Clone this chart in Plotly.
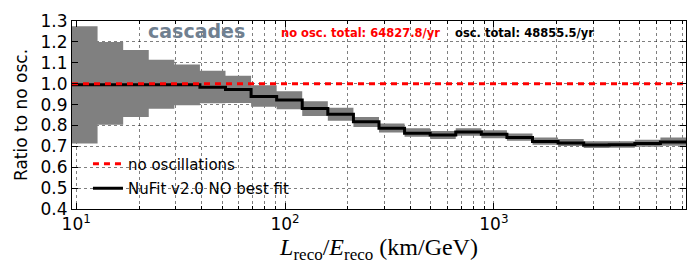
import numpy as np
import plotly.graph_objects as go

# Bin edges of L_reco/E_reco (km/GeV)
bin_edges = [9.55, 12.66, 16.79, 22.26, 29.51, 39.13, 51.88, 68.79, 91.20, 120.9,
             160.3, 212.6, 281.8, 373.6, 495.5, 656.9, 871.0, 1154.8, 1531, 2030,
             2692, 3569, 4732, 6274, 8318]

# NuFit v2.0 NO best fit ratio to no oscillation (per bin)
ratio_bestfit = [0.995, 0.995, 0.995, 0.995, 0.995, 0.983, 0.972, 0.939, 0.922, 0.881,
                 0.853, 0.818, 0.787, 0.763, 0.754, 0.769, 0.758, 0.742, 0.723, 0.716,
                 0.706, 0.708, 0.714, 0.721]
# Uncertainty band (upper / lower)
band_high = [1.275, 1.200, 1.161, 1.114, 1.092, 1.062, 1.038, 0.993, 0.964, 0.916,
             0.885, 0.840, 0.809, 0.787, 0.774, 0.787, 0.777, 0.761, 0.742, 0.735,
             0.724, 0.724, 0.732, 0.742]
band_low = [0.714, 0.803, 0.840, 0.880, 0.897, 0.906, 0.908, 0.889, 0.877, 0.845,
            0.822, 0.793, 0.766, 0.746, 0.735, 0.751, 0.739, 0.727, 0.708, 0.702,
            0.692, 0.693, 0.698, 0.703]
no_osc_ratio = 1.0

no_osc_total = "64827.8/yr"
osc_total = "48855.5/yr"

x_major = [10, 100, 1000]
x_major_text = ["10<sup>1</sup>", "10<sup>2</sup>", "10<sup>3</sup>"]
x_minor = [m * 10 ** e for e in range(1, 4) for m in range(2, 10)]

def step(v):
    return list(v) + [v[-1]]

FONT = "DejaVu Sans"
GRID = "rgba(0,0,0,0.5)"

fig = go.Figure()
fig.add_trace(go.Scatter(x=bin_edges, y=step(band_low), mode="lines",
                         line=dict(width=0, shape="hv", color="#808080"),
                         showlegend=False, hoverinfo="skip"))
fig.add_trace(go.Scatter(x=bin_edges, y=step(band_high), mode="lines",
                         line=dict(width=0, shape="hv", color="#808080"),
                         fill="tonexty", fillcolor="#808080",
                         showlegend=False, hoverinfo="skip"))
fig.add_trace(go.Scatter(x=bin_edges, y=step(ratio_bestfit), mode="lines",
                         line=dict(color="black", width=3, shape="hv"),
                         name="NuFit v2.0 NO best fit", legendrank=2,
                         legendgroup="b"))
fig.add_trace(go.Scatter(x=[bin_edges[0], bin_edges[-1]], y=[no_osc_ratio, no_osc_ratio],
                         mode="lines",
                         line=dict(color="red", width=3, dash="6px,5px"),
                         name="no oscillations", legendrank=1, legendgroup="a"))

fig.update_layout(
    width=698, height=279,
    margin=dict(l=72, r=11, t=19, b=70),
    paper_bgcolor="white", plot_bgcolor="white",
    font=dict(family=FONT, size=17, color="black"),
    showlegend=True,
    legend=dict(x=0.026, y=0.327, xanchor="left", yanchor="top",
                bgcolor="rgba(0,0,0,0)", font=dict(size=15),
                traceorder="grouped", tracegroupgap=2),
)
xtitle = ('<i>L</i><sub><span style="font-size:17px">reco</span></sub>/'
          '<i>E</i><sub><span style="font-size:17px">reco</span></sub> (km/GeV)')
fig.update_xaxes(
    type="log", range=[np.log10(bin_edges[0]), np.log10(bin_edges[-1])],
    tickmode="array", tickvals=x_major, ticktext=x_major_text,
    ticks="inside", ticklen=6, tickcolor="black", tickwidth=1,
    showline=True, linecolor="black", linewidth=1, mirror="allticks",
    showgrid=True, gridcolor=GRID, gridwidth=1, griddash="dot",
    minor=dict(tickmode="array", tickvals=x_minor, ticks="inside", ticklen=3,
               tickcolor="black", showgrid=True, gridcolor=GRID, gridwidth=1,
               griddash="dot"),
    zeroline=False,
    title=dict(text=xtitle, font=dict(family="Liberation Serif", size=24), standoff=4),
)
fig.update_yaxes(
    range=[0.4, 1.3], dtick=0.1, tick0=0.4, tickformat=".1f",
    ticks="inside", ticklen=6, tickcolor="black", tickwidth=1,
    showline=True, linecolor="black", linewidth=1, mirror="allticks",
    showgrid=True, gridcolor=GRID, gridwidth=1, griddash="dot",
    zeroline=False,
    title=dict(text="Ratio to no osc.", font=dict(size=17), standoff=8),
)

fig.add_annotation(text="<b>cascades</b>", xref="paper", yref="paper",
                   x=0.202, y=0.945, xanchor="center", yanchor="middle", showarrow=False,
                   font=dict(family=FONT, size=19, color="#708090"))
fig.add_annotation(text="<b>no osc. total: " + no_osc_total + "</b>", xref="paper", yref="paper",
                   x=0.337, y=0.934, xanchor="left", yanchor="middle", showarrow=False,
                   font=dict(family=FONT, size=11.5, color="red"))
fig.add_annotation(text="<b>osc. total: " + osc_total + "</b>", xref="paper", yref="paper",
                   x=0.62, y=0.934, xanchor="left", yanchor="middle", showarrow=False,
                   font=dict(family=FONT, size=11.5, color="black"))

fig.write_html("out.html", config={"displayModeBar": False},
               post_script="document.body.style.margin='0';document.body.style.overflow='hidden';")
